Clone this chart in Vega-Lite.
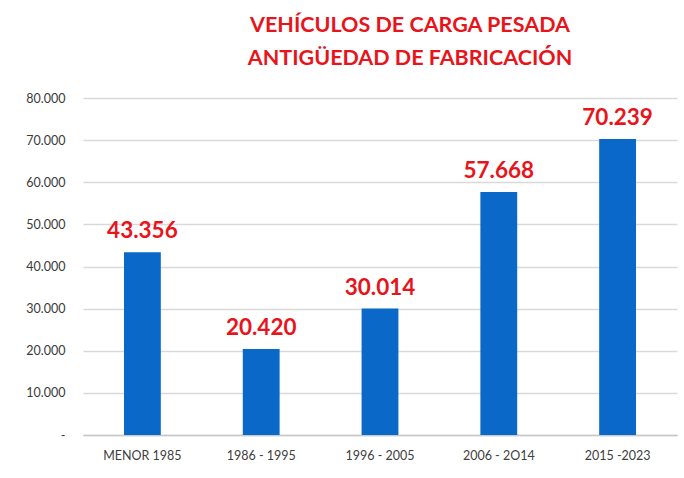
{
  "$schema": "https://vega.github.io/schema/vega-lite/v6.json",
  "width": 594,
  "height": 337,
  "autosize": {"type": "none"},
  "padding": {"left": 83, "top": 98, "right": 7, "bottom": 43},
  "background": "#ffffff",
  "config": {
    "locale": {"number": {"decimal": ",", "thousands": ".", "grouping": [3], "currency": ["", ""]}},
    "view": {"stroke": null},
    "font": "Lato"
  },
  "title": {
    "text": ["VEHÍCULOS DE CARGA PESADA", "ANTIGÜEDAD DE FABRICACIÓN"],
    "color": "#e8141b",
    "fontSize": 21.5,
    "font": "Lato",
    "fontWeight": "bold",
    "lineHeight": 33,
    "anchor": "middle",
    "dx": 30,
    "offset": 23
  },
  "data": {
    "values": [
      {"periodo": "MENOR 1985", "vehiculos": 43356},
      {"periodo": "1986 - 1995", "vehiculos": 20420},
      {"periodo": "1996 - 2005", "vehiculos": 30014},
      {"periodo": "2006 - 2O14", "vehiculos": 57668},
      {"periodo": "2015 -2023", "vehiculos": 70239}
    ]
  },
  "encoding": {
    "x": {
      "field": "periodo",
      "type": "nominal",
      "sort": null,
      "scale": {"paddingInner": 0.69, "paddingOuter": 0.345},
      "axis": {
        "title": null,
        "labelAngle": 0,
        "ticks": false,
        "domainColor": "#c8c8c8",
        "domainWidth": 1.5,
        "labelColor": "#404040",
        "labelFontSize": 12.5,
        "labelPadding": 14,
        "labelFont": "Lato"
      }
    },
    "y": {
      "field": "vehiculos",
      "type": "quantitative",
      "scale": {"domain": [0, 80000], "nice": false},
      "axis": {
        "title": null,
        "values": [0, 10000, 20000, 30000, 40000, 50000, 60000, 70000, 80000],
        "labelExpr": "datum.value == 0 ? '-' : (datum.value / 1000) + '.000'",
        "domain": false,
        "ticks": false,
        "gridColor": "#d9d9d9",
        "gridWidth": 1.5,
        "labelColor": "#3a3a3a",
        "labelFontSize": 12.5,
        "labelPadding": 18,
        "labelFont": "Lato"
      }
    }
  },
  "layer": [
    {"mark": {"type": "bar", "color": "#0a68c8"}},
    {
      "mark": {"type": "text", "baseline": "bottom", "dy": -9, "color": "#e8141b", "fontSize": 22.5, "fontWeight": "bold", "font": "Lato"},
      "encoding": {"text": {"field": "vehiculos", "type": "quantitative", "format": ",.0f"}}
    }
  ]
}
